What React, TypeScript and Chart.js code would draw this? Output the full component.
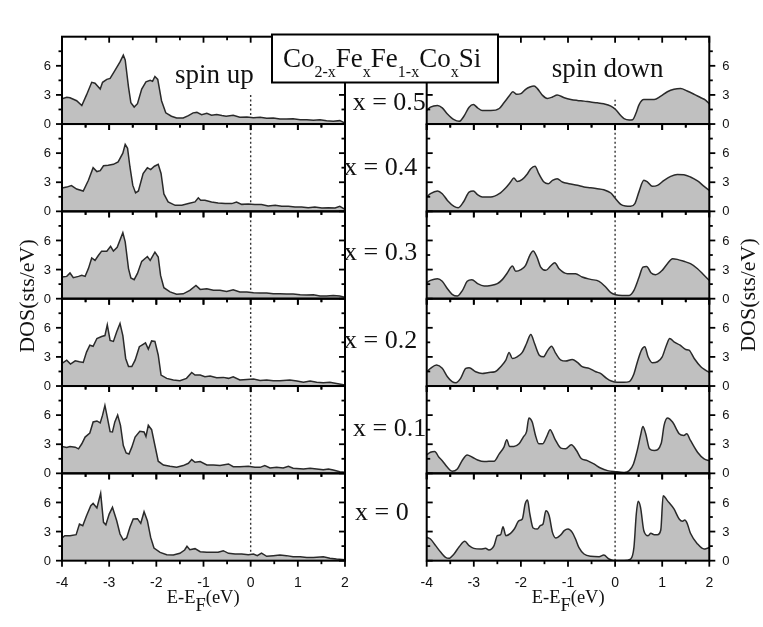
import React, { useEffect, useRef } from "react";
import { Chart, registerables } from "chart.js";

Chart.register(...registerables);

// ---------- axis definitions ----------
const E_MIN = -4;
const E_MAX = 2;
const DOS_MIN = 0;
const DOS_MAX = 9;
const E_TICKS_MAJOR = [-4, -3, -2, -1, 0, 1, 2];
const E_TICKS_MINOR = [-3.5, -2.5, -1.5, -0.5, 0.5, 1.5];
const DOS_TICKS_MAJOR = [0, 3, 6];
const DOS_TICKS_MINOR = [1.5, 4.5, 7.5];
const CONCENTRATION_LABELS = ["x = 0.5", "x = 0.4", "x = 0.3", "x = 0.2", "x = 0.1", "x = 0"];
const DOTTED_TOP_UP = [3.0, 9, 9, 9, 9, 9];
const DOTTED_TOP_DOWN = [2.5, 9, 9, 9, 9, 9];

// ---------- spin-up DOS ( [E-EF (eV), DOS (sts/eV)] ) ----------
const UP_X05: [number, number][] = [[-4.00,2.6],[-3.90,2.75],[-3.83,2.7],[-3.69,2.4],[-3.58,1.9],[-3.48,3.0],[-3.37,4.3],[-3.30,4.2],[-3.19,3.6],[-3.14,4.3],[-3.05,4.6],[-2.98,4.7],[-2.88,5.5],[-2.77,6.4],[-2.70,7.1],[-2.66,6.6],[-2.59,3.8],[-2.54,2.2],[-2.47,1.75],[-2.40,2.1],[-2.31,3.6],[-2.22,4.35],[-2.13,4.5],[-2.08,4.4],[-2.03,4.9],[-1.97,4.6],[-1.89,2.4],[-1.80,1.15],[-1.68,0.8],[-1.57,0.62],[-1.43,0.62],[-1.32,0.87],[-1.22,1.15],[-1.14,1.2],[-1.04,0.97],[-0.93,1.1],[-0.83,0.9],[-0.72,0.97],[-0.61,0.87],[-0.52,0.8],[-0.37,0.9],[-0.23,0.7],[-0.08,0.73],[0.06,0.66],[0.20,0.7],[0.34,0.6],[0.48,0.62],[0.62,0.52],[0.76,0.52],[0.90,0.55],[1.05,0.45],[1.19,0.45],[1.33,0.38],[1.47,0.45],[1.61,0.35],[1.75,0.28],[1.89,0.35],[2.00,0.1]];
const UP_X04: [number, number][] = [[-4.00,2.4],[-3.90,2.5],[-3.80,2.65],[-3.69,2.3],[-3.55,2.1],[-3.44,3.2],[-3.34,4.5],[-3.26,4.1],[-3.19,4.2],[-3.12,4.7],[-3.02,4.75],[-2.91,4.85],[-2.81,5.1],[-2.71,6.0],[-2.66,6.9],[-2.61,6.5],[-2.56,4.6],[-2.50,2.7],[-2.44,1.9],[-2.38,2.1],[-2.28,3.9],[-2.19,4.5],[-2.12,4.3],[-2.04,4.65],[-1.96,4.85],[-1.90,3.9],[-1.84,1.8],[-1.75,0.97],[-1.60,0.62],[-1.46,0.62],[-1.32,0.8],[-1.18,0.97],[-1.11,1.4],[-1.06,1.15],[-0.97,1.15],[-0.83,0.97],[-0.69,0.86],[-0.54,0.8],[-0.40,0.8],[-0.30,0.97],[-0.19,0.72],[-0.05,0.76],[0.09,0.7],[0.23,0.7],[0.37,0.55],[0.52,0.62],[0.66,0.52],[0.80,0.52],[0.94,0.45],[1.08,0.45],[1.22,0.38],[1.36,0.45],[1.51,0.34],[1.65,0.38],[1.79,0.34],[1.89,0.52],[2.00,0.2]];
const UP_X03: [number, number][] = [[-4.00,2.23],[-3.90,2.3],[-3.83,2.65],[-3.76,2.16],[-3.65,2.3],[-3.58,2.4],[-3.51,2.3],[-3.44,3.1],[-3.37,4.2],[-3.30,3.95],[-3.23,4.45],[-3.16,4.9],[-3.05,4.9],[-2.97,5.4],[-2.91,4.9],[-2.83,5.3],[-2.71,6.8],[-2.66,5.85],[-2.59,3.1],[-2.54,2.13],[-2.47,1.96],[-2.40,2.6],[-2.31,3.85],[-2.19,4.35],[-2.13,3.95],[-2.03,4.8],[-1.96,4.3],[-1.91,2.4],[-1.84,1.13],[-1.71,0.7],[-1.57,0.45],[-1.43,0.5],[-1.29,0.86],[-1.16,1.37],[-1.07,0.96],[-0.93,1.03],[-0.79,0.86],[-0.65,0.86],[-0.51,0.75],[-0.37,0.93],[-0.23,0.7],[-0.08,0.7],[0.06,0.62],[0.20,0.58],[0.34,0.58],[0.48,0.5],[0.62,0.5],[0.76,0.48],[0.90,0.48],[1.05,0.41],[1.19,0.38],[1.33,0.41],[1.47,0.27],[1.61,0.27],[1.75,0.34],[1.89,0.27],[2.00,0.14]];
const UP_X02: [number, number][] = [[-4.00,2.33],[-3.90,2.67],[-3.82,2.26],[-3.72,2.6],[-3.63,2.5],[-3.55,2.43],[-3.48,3.5],[-3.41,4.2],[-3.34,4.1],[-3.26,4.9],[-3.16,5.1],[-3.09,5.2],[-3.04,6.3],[-2.98,4.7],[-2.91,4.6],[-2.84,5.6],[-2.77,6.45],[-2.71,5.2],[-2.65,2.84],[-2.59,2.0],[-2.52,2.0],[-2.45,2.67],[-2.36,4.05],[-2.28,4.3],[-2.23,4.45],[-2.17,3.8],[-2.10,4.65],[-2.03,4.6],[-1.96,3.2],[-1.90,1.13],[-1.78,0.79],[-1.64,0.62],[-1.50,0.55],[-1.36,0.79],[-1.25,1.4],[-1.18,1.13],[-1.07,1.13],[-0.97,0.96],[-0.86,1.03],[-0.72,0.86],[-0.58,0.89],[-0.47,0.79],[-0.37,0.96],[-0.23,0.62],[-0.08,0.68],[0.06,0.72],[0.20,0.58],[0.34,0.62],[0.48,0.55],[0.62,0.55],[0.83,0.62],[0.98,0.51],[1.12,0.38],[1.26,0.51],[1.40,0.38],[1.54,0.34],[1.68,0.38],[1.82,0.27],[2.00,0.1]];
const UP_X01: [number, number][] = [[-4.00,2.77],[-3.90,2.66],[-3.83,2.77],[-3.72,2.7],[-3.65,2.53],[-3.58,3.05],[-3.51,3.74],[-3.41,4.15],[-3.34,5.3],[-3.26,5.4],[-3.19,5.2],[-3.14,6.0],[-3.09,7.0],[-3.04,5.8],[-2.98,4.3],[-2.93,4.26],[-2.88,5.3],[-2.82,6.0],[-2.76,4.95],[-2.70,2.87],[-2.64,2.1],[-2.58,2.0],[-2.52,2.7],[-2.45,3.74],[-2.35,4.33],[-2.26,4.26],[-2.22,3.8],[-2.17,4.95],[-2.10,4.5],[-2.03,2.87],[-1.96,1.25],[-1.85,0.86],[-1.71,0.73],[-1.57,0.62],[-1.43,0.8],[-1.32,1.04],[-1.25,1.42],[-1.18,1.14],[-1.07,1.21],[-0.93,0.86],[-0.79,0.86],[-0.65,0.8],[-0.47,0.97],[-0.37,0.69],[-0.23,0.69],[-0.05,0.73],[0.09,0.62],[0.20,0.62],[0.30,0.8],[0.41,0.55],[0.55,0.62],[0.69,0.55],[0.80,0.73],[0.90,0.52],[1.12,0.45],[1.26,0.52],[1.40,0.45],[1.54,0.38],[1.65,0.45],[1.75,0.35],[1.89,0.17],[2.00,0.1]];
const UP_X00: [number, number][] = [[-4.00,2.34],[-3.94,2.58],[-3.83,2.58],[-3.70,2.68],[-3.63,3.78],[-3.56,3.6],[-3.48,4.64],[-3.39,5.67],[-3.34,5.9],[-3.26,5.43],[-3.18,6.94],[-3.12,3.95],[-3.07,3.7],[-3.00,4.8],[-2.93,5.5],[-2.84,4.12],[-2.77,2.75],[-2.70,2.13],[-2.63,2.34],[-2.56,3.44],[-2.49,4.3],[-2.40,4.33],[-2.33,3.85],[-2.26,5.05],[-2.19,4.12],[-2.12,2.4],[-2.05,1.3],[-1.92,0.86],[-1.78,0.62],[-1.64,0.58],[-1.50,0.76],[-1.40,1.1],[-1.35,1.48],[-1.29,1.13],[-1.18,1.24],[-1.07,0.93],[-0.93,0.86],[-0.79,0.86],[-0.69,0.86],[-0.58,1.03],[-0.47,0.76],[-0.33,0.69],[-0.19,0.69],[-0.05,0.62],[0.06,0.69],[0.14,0.52],[0.23,0.79],[0.34,0.45],[0.48,0.52],[0.62,0.58],[0.76,0.52],[0.90,0.41],[1.05,0.41],[1.19,0.34],[1.33,0.34],[1.54,0.41],[1.68,0.24],[1.82,0.17],[2.00,0.1]];

// ---------- spin-down DOS ----------
const DOWN_X05: [number, number][] = [[-4.00,1.39],[-3.92,1.74],[-3.77,1.91],[-3.67,1.67],[-3.56,1.04],[-3.42,0.45],[-3.31,0.28],[-3.21,0.8],[-3.10,1.74],[-3.01,2.01],[-2.92,1.67],[-2.82,1.39],[-2.64,1.39],[-2.46,1.6],[-2.36,2.19],[-2.25,2.88],[-2.17,3.33],[-2.09,3.06],[-2.00,3.13],[-1.90,3.58],[-1.81,3.82],[-1.72,3.92],[-1.65,3.65],[-1.54,2.95],[-1.44,2.64],[-1.33,2.78],[-1.23,2.99],[-1.08,2.71],[-0.94,2.53],[-0.80,2.43],[-0.66,2.36],[-0.52,2.26],[-0.38,2.19],[-0.24,2.08],[-0.09,1.84],[0.01,1.49],[0.12,0.87],[0.19,0.56],[0.30,0.42],[0.37,0.45],[0.44,1.08],[0.51,2.01],[0.61,2.53],[0.72,2.53],[0.83,2.53],[0.97,2.88],[1.11,3.33],[1.25,3.58],[1.39,3.65],[1.53,3.4],[1.68,3.06],[1.82,2.71],[1.92,2.47],[2.00,2.08]];
const DOWN_X04: [number, number][] = [[-4.00,1.48],[-3.92,1.82],[-3.77,2.1],[-3.67,1.82],[-3.56,1.13],[-3.42,0.52],[-3.33,0.38],[-3.22,0.96],[-3.10,1.99],[-3.01,2.1],[-2.92,1.72],[-2.82,1.48],[-2.64,1.48],[-2.46,1.82],[-2.32,2.44],[-2.22,3.02],[-2.15,3.44],[-2.08,3.09],[-1.97,3.3],[-1.86,3.88],[-1.79,4.4],[-1.70,4.64],[-1.62,3.88],[-1.51,3.02],[-1.42,2.85],[-1.33,3.2],[-1.23,3.37],[-1.12,3.02],[-0.98,2.85],[-0.80,2.68],[-0.66,2.51],[-0.52,2.44],[-0.38,2.34],[-0.24,2.23],[-0.09,1.89],[0.01,1.31],[0.12,0.72],[0.22,0.55],[0.33,0.52],[0.42,0.79],[0.51,2.06],[0.61,3.2],[0.69,3.02],[0.79,2.58],[0.90,2.68],[1.04,3.2],[1.18,3.61],[1.32,3.81],[1.46,3.78],[1.60,3.54],[1.75,3.13],[1.89,2.58],[2.00,2.16]];
const DOWN_X03: [number, number][] = [[-4.00,1.65],[-3.92,1.89],[-3.77,2.06],[-3.67,1.79],[-3.56,1.03],[-3.46,0.45],[-3.35,0.27],[-3.24,0.86],[-3.14,1.79],[-3.04,1.96],[-2.92,1.55],[-2.78,1.31],[-2.64,1.37],[-2.50,1.55],[-2.39,1.99],[-2.29,2.65],[-2.18,3.37],[-2.11,2.82],[-2.00,2.99],[-1.90,3.44],[-1.81,4.47],[-1.74,4.91],[-1.66,4.3],[-1.58,3.26],[-1.47,2.92],[-1.37,3.37],[-1.28,3.71],[-1.19,3.09],[-1.01,2.58],[-0.84,2.58],[-0.70,2.23],[-0.52,1.99],[-0.34,1.79],[-0.20,1.2],[-0.09,0.62],[0.01,0.41],[0.15,0.34],[0.30,0.34],[0.40,0.86],[0.51,2.23],[0.59,3.26],[0.67,3.33],[0.76,2.68],[0.86,2.47],[1.00,2.92],[1.11,3.61],[1.22,4.12],[1.32,4.05],[1.46,3.85],[1.60,3.61],[1.75,3.09],[1.89,2.41],[2.00,1.89]];
const DOWN_X02: [number, number][] = [[-4.00,1.47],[-3.92,1.82],[-3.79,2.16],[-3.67,1.82],[-3.56,0.96],[-3.46,0.45],[-3.38,0.34],[-3.28,0.79],[-3.17,1.82],[-3.10,1.88],[-2.96,1.47],[-2.82,1.3],[-2.68,1.4],[-2.55,1.47],[-2.43,1.99],[-2.32,2.67],[-2.25,3.46],[-2.18,2.84],[-2.08,3.01],[-1.97,3.46],[-1.88,4.38],[-1.79,5.31],[-1.71,4.38],[-1.61,3.18],[-1.52,3.01],[-1.44,3.6],[-1.35,4.11],[-1.26,3.36],[-1.15,2.67],[-1.05,2.57],[-0.91,2.74],[-0.80,2.43],[-0.70,1.99],[-0.55,1.82],[-0.41,1.47],[-0.31,1.3],[-0.18,0.79],[-0.08,0.51],[0.05,0.38],[0.19,0.38],[0.30,0.45],[0.39,1.13],[0.47,2.43],[0.56,3.7],[0.63,4.04],[0.70,3.01],[0.79,2.4],[0.90,2.5],[1.00,3.01],[1.09,4.21],[1.16,4.9],[1.25,4.55],[1.38,4.21],[1.50,3.77],[1.57,3.7],[1.68,2.84],[1.82,1.99],[1.92,1.64],[2.00,1.4]];
const DOWN_X01: [number, number][] = [[-4.00,1.9],[-3.92,2.18],[-3.83,2.25],[-3.74,1.66],[-3.67,1.31],[-3.56,0.62],[-3.46,0.21],[-3.35,0.45],[-3.24,1.38],[-3.14,1.9],[-3.03,1.66],[-2.92,1.38],[-2.78,1.21],[-2.68,1.25],[-2.57,1.25],[-2.46,2.01],[-2.36,2.7],[-2.30,3.46],[-2.24,2.77],[-2.15,2.77],[-2.04,3.04],[-1.95,3.74],[-1.88,4.3],[-1.83,5.71],[-1.76,5.29],[-1.69,3.91],[-1.62,3.04],[-1.54,3.04],[-1.45,3.81],[-1.38,4.5],[-1.28,3.56],[-1.15,2.6],[-1.05,2.53],[-0.93,2.94],[-0.82,2.35],[-0.73,1.59],[-0.59,1.31],[-0.45,0.97],[-0.31,0.55],[-0.16,0.28],[0.01,0.17],[0.19,0.1],[0.30,0.28],[0.39,0.97],[0.47,2.35],[0.54,3.91],[0.59,4.84],[0.65,4.08],[0.73,2.53],[0.83,2.35],[0.98,3.11],[1.04,4.95],[1.11,5.71],[1.22,5.29],[1.36,4.08],[1.46,3.91],[1.52,4.08],[1.60,3.39],[1.75,2.18],[1.89,1.49],[2.00,1.31]];
const DOWN_X00: [number, number][] = [[-4.00,2.41],[-3.92,2.23],[-3.81,1.55],[-3.70,0.86],[-3.60,0.34],[-3.53,0.24],[-3.42,0.69],[-3.31,1.44],[-3.19,1.99],[-3.10,1.55],[-3.00,1.27],[-2.85,1.2],[-2.75,1.27],[-2.68,1.1],[-2.57,1.55],[-2.50,2.58],[-2.43,2.68],[-2.38,3.5],[-2.32,2.58],[-2.22,2.82],[-2.14,3.26],[-2.04,4.12],[-1.97,4.3],[-1.91,5.84],[-1.86,6.25],[-1.81,4.81],[-1.74,3.37],[-1.65,3.26],[-1.59,3.61],[-1.53,3.78],[-1.47,5.15],[-1.40,4.64],[-1.33,2.92],[-1.26,2.34],[-1.15,2.68],[-1.08,3.09],[-1.00,3.26],[-0.91,2.92],[-0.84,2.23],[-0.77,1.37],[-0.66,0.69],[-0.52,0.45],[-0.34,0.41],[-0.24,0.58],[-0.13,0.17],[-0.03,0.02],[0.19,0.02],[0.33,0.17],[0.40,1.37],[0.45,4.81],[0.49,6.12],[0.54,5.5],[0.61,3.09],[0.70,2.58],[0.76,2.82],[0.83,2.68],[0.90,2.68],[0.97,3.16],[1.02,6.7],[1.11,6.19],[1.25,5.33],[1.36,4.3],[1.43,4.06],[1.48,4.19],[1.53,3.85],[1.60,2.82],[1.75,1.72],[1.89,1.2],[1.95,1.27],[2.00,1.37]];

const SPIN_UP = [UP_X05, UP_X04, UP_X03, UP_X02, UP_X01, UP_X00];
const SPIN_DOWN = [DOWN_X05, DOWN_X04, DOWN_X03, DOWN_X02, DOWN_X01, DOWN_X00];

// ---------- layout (page pixels) ----------
const COL_LEFT = [62, 426.7];
const COL_RIGHT = [345, 709.3];
const ROW_TOP0 = 36.7;
const ROW_H = 87.33;
const LABEL_X = [352.7, 344, 344, 344, 353, 355];
const LABEL_BASE = [110, 175, 260, 347.5, 435.7, 520];

const SANS = '"Liberation Sans", Arial, sans-serif';
const SERIF = "'Liberation Serif', 'Times New Roman', serif";

function makeFramePlugin(col: number, isBottom: boolean) {
  return {
    id: "frameTicks",
    afterDraw(chart: any) {
      const { ctx, chartArea } = chart;
      const { left, right, top, bottom } = chartArea;
      const xs = chart.scales.x;
      const ys = chart.scales.y;
      ctx.save();
      ctx.strokeStyle = "#000";
      ctx.lineWidth = 2;
      ctx.strokeRect(left, top, right - left, bottom - top);
      ctx.lineWidth = 1.8;
      const line = (x1: number, y1: number, x2: number, y2: number) => {
        ctx.beginPath();
        ctx.moveTo(x1, y1);
        ctx.lineTo(x2, y2);
        ctx.stroke();
      };
      const xt = [...E_TICKS_MAJOR.map((v) => [v, 6]), ...E_TICKS_MINOR.map((v) => [v, 3.5])];
      for (const [v, len] of xt) {
        const px = xs.getPixelForValue(v);
        line(px, bottom, px, bottom + len);
        line(px, top, px, top + len);
      }
      const yt = [...DOS_TICKS_MAJOR.map((v) => [v, 6]), ...DOS_TICKS_MINOR.map((v) => [v, 3.5])];
      for (const [v, len] of yt) {
        const py = ys.getPixelForValue(v);
        if (col === 0) {
          line(left - len, py, left, py);
          line(right - len, py, right, py);
        } else {
          line(right, py, right + len, py);
          line(left, py, left + len, py);
        }
      }
      ctx.fillStyle = "#111";
      ctx.font = `13px ${SANS}`;
      ctx.textBaseline = "middle";
      ctx.textAlign = col === 0 ? "right" : "left";
      for (const v of DOS_TICKS_MAJOR) {
        const py = ys.getPixelForValue(v);
        ctx.fillText(String(v), col === 0 ? left - 11 : right + 13, py + 0.5);
      }
      if (isBottom) {
        ctx.font = `14px ${SANS}`;
        ctx.textAlign = "center";
        ctx.textBaseline = "alphabetic";
        for (const v of E_TICKS_MAJOR) {
          const px = xs.getPixelForValue(v);
          ctx.fillText(String(v), px, bottom + 26.5);
        }
      }
      ctx.restore();
    },
  };
}

function Panel({ col, row }: { col: number; row: number }) {
  const ref = useRef<HTMLCanvasElement>(null);
  const isBottom = row === 5;
  const L = COL_LEFT[col];
  const R = COL_RIGHT[col];
  const T = ROW_TOP0 + row * ROW_H;
  const B = T + ROW_H;
  const cl = Math.floor(L) - 50;
  const cw = Math.ceil(R) + 50 - cl;
  const ct = Math.floor(T) - 10;
  const ch = Math.ceil(B) + (isBottom ? 40 : 10) - ct;
  const pad = { left: L - cl, right: cw - (R - cl), top: T - ct, bottom: ch - (B - ct) };

  useEffect(() => {
    const series = col === 0 ? SPIN_UP[row] : SPIN_DOWN[row];
    const dottedTop = col === 0 ? DOTTED_TOP_UP[row] : DOTTED_TOP_DOWN[row];
    const chart = new Chart(ref.current as HTMLCanvasElement, {
      type: "line",
      data: {
        datasets: [
          {
            data: series.map(([x, y]) => ({ x, y })),
            borderColor: "#2a2a2a",
            borderWidth: 1.5,
            backgroundColor: "#c0c0c0",
            fill: "origin",
            pointRadius: 0,
            tension: col === 1 ? 0.4 : 0,
            cubicInterpolationMode: col === 1 ? "monotone" : "default",
            order: 1,
          } as any,
          {
            data: [
              { x: 0, y: 0 },
              { x: 0, y: dottedTop },
            ],
            borderColor: "#333",
            borderWidth: 1.4,
            borderDash: [2, 2.5],
            pointRadius: 0,
            fill: false,
            order: 2,
          } as any,
        ],
      },
      options: {
        animation: false,
        responsive: false,
        maintainAspectRatio: false,
        events: [],
        layout: { padding: pad },
        scales: {
          x: { type: "linear", min: E_MIN, max: E_MAX, display: false },
          y: { type: "linear", min: DOS_MIN, max: DOS_MAX, display: false },
        },
        plugins: { legend: { display: false }, tooltip: { enabled: false } },
      },
      plugins: [makeFramePlugin(col, isBottom)],
    });
    return () => chart.destroy();
  }, []);

  return (
    <canvas
      ref={ref}
      width={cw}
      height={ch}
      style={{ position: "absolute", left: cl, top: ct, width: cw, height: ch }}
    />
  );
}

export default function App() {
  const panels: JSX.Element[] = [];
  for (let col = 0; col < 2; col++) {
    for (let row = 0; row < 6; row++) {
      panels.push(<Panel key={`${col}-${row}`} col={col} row={row} />);
    }
  }
  return (
    <div
      style={{
        position: "absolute",
        left: 0,
        top: 0,
        width: 763,
        height: 627,
        background: "#fff",
        overflow: "hidden",
      }}
    >
      {panels}
      <svg
        width={763}
        height={627}
        style={{ position: "absolute", left: 0, top: 0, pointerEvents: "none" }}
      >
        <rect x={272} y={34.5} width={226} height={48} fill="#fff" stroke="#000" strokeWidth={2} />
        <text x={283} y={66.7} fontFamily={SERIF} fontSize={27} fill="#111">
          Co<tspan fontSize={16} dy={10}>2-x</tspan>
          <tspan dy={-10}>Fe</tspan>
          <tspan fontSize={16} dy={10}>x</tspan>
          <tspan dy={-10}>Fe</tspan>
          <tspan fontSize={16} dy={10}>1-x</tspan>
          <tspan dy={-10}>Co</tspan>
          <tspan fontSize={16} dy={10}>x</tspan>
          <tspan dy={-10}>Si</tspan>
        </text>
        <text x={175} y={83.3} fontFamily={SERIF} fontSize={27} fill="#111">spin up</text>
        <text x={551.7} y={76.7} fontFamily={SERIF} fontSize={27} fill="#111">spin down</text>
        {CONCENTRATION_LABELS.map((s, i) => (
          <text key={s} x={LABEL_X[i]} y={LABEL_BASE[i]} fontFamily={SERIF} fontSize={26} fill="#111">
            {s}
          </text>
        ))}
        <text
          transform="translate(34,296) rotate(-90)"
          textAnchor="middle"
          fontFamily={SERIF}
          fontSize={22}
          fill="#111"
        >
          DOS(sts/eV)
        </text>
        <text
          transform="translate(755,295) rotate(-90)"
          textAnchor="middle"
          fontFamily={SERIF}
          fontSize={22}
          fill="#111"
        >
          DOS(sts/eV)
        </text>
        <text x={166.7} y={603.3} fontFamily={SERIF} fontSize={18.5} fill="#111">
          E-E<tspan dy={8}>F</tspan>
          <tspan dy={-8}>(eV)</tspan>
        </text>
        <text x={531.7} y={603.3} fontFamily={SERIF} fontSize={18.5} fill="#111">
          E-E<tspan dy={8}>F</tspan>
          <tspan dy={-8}>(eV)</tspan>
        </text>
      </svg>
    </div>
  );
}
